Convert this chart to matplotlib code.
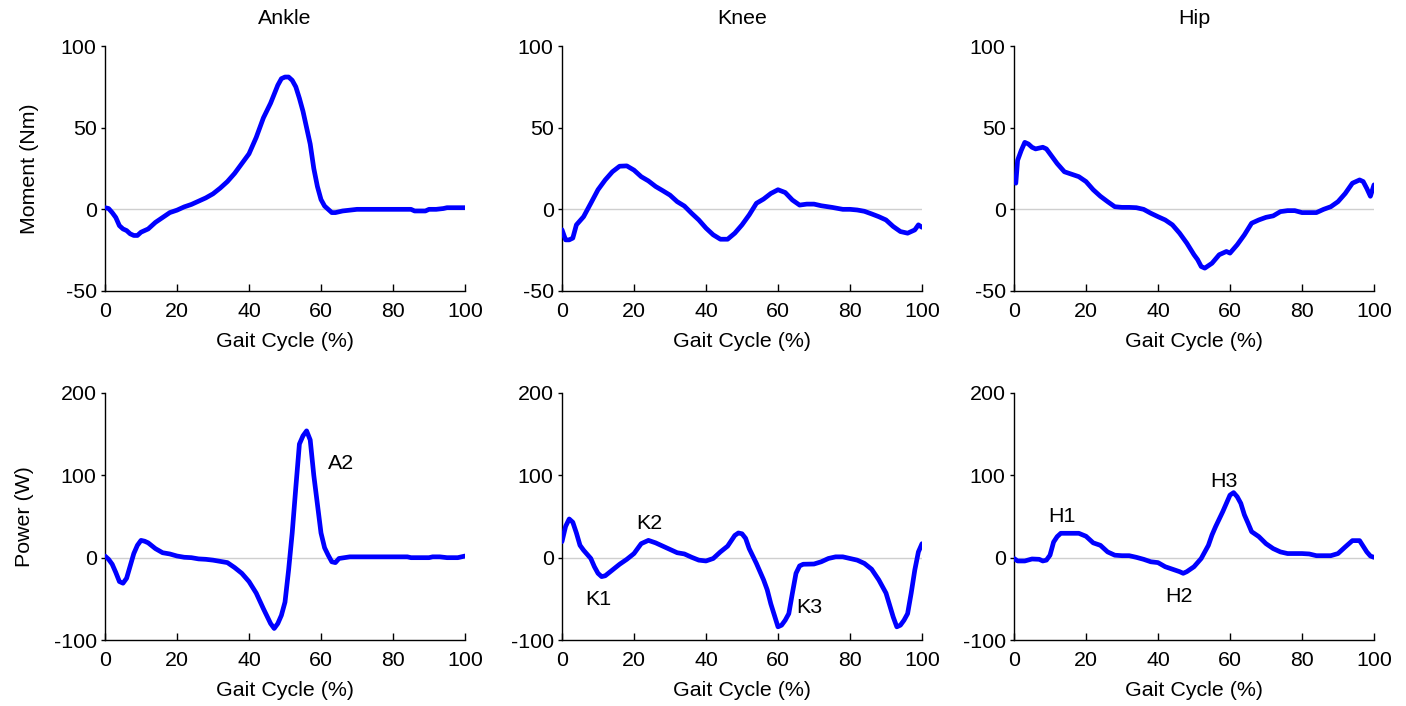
"""Joint moments and powers across the gait cycle (ankle, knee, hip)"""

import matplotlib
matplotlib.use("Agg")
import matplotlib.pyplot as plt

plt.rcParams["font.family"] = ["Liberation Sans", "DejaVu Sans"]
plt.rcParams["font.size"] = 15.4
plt.rcParams["axes.unicode_minus"] = False

LINE_COLOR = "#0000ff"
ZERO_COLOR = "#cfcfcf"
LINEWIDTH = 3.4

JOINTS = ["Ankle", "Knee", "Hip"]

# --- moments (Nm) ---
ankle_moment_x = [0, 1, 2, 3, 4, 5, 6, 7, 8, 9, 10, 12, 14, 16, 18, 20, 22, 24, 26, 28, 30,
                  32, 34, 36, 38, 40, 42, 44, 46, 48, 49, 50, 51, 52, 53, 54, 55, 56, 57,
                  58, 59, 60, 61, 62, 63, 64, 66, 68, 70, 75, 80, 85, 86, 88, 89, 90, 92,
                  94, 95, 96, 98, 100]
ankle_moment_y = [1, 0.5, -2, -5, -10, -12, -13, -15, -16, -16, -14, -12, -8, -5, -2, -0.5,
                  1.5, 3, 5, 7, 9.5, 13, 17, 22, 28, 34, 44, 56, 65, 76, 80, 81, 81, 79, 75,
                  68, 60, 50, 40, 25, 14, 6, 2, 0, -2, -2, -1, -0.5, 0, 0, 0, 0, -1, -1,
                  -1, 0, 0, 0.5, 1, 1, 1, 1]

knee_moment_x = [0, 1, 2, 3, 4, 6, 8, 10, 12, 14, 16, 18, 20, 22, 24, 26, 28, 30, 32, 34,
                 36, 38, 40, 42, 44, 46, 48, 50, 52, 54, 56, 58, 60, 62, 64, 66, 68, 70, 72,
                 75, 78, 80, 82, 84, 86, 88, 90, 92, 94, 96, 98, 99, 100]
knee_moment_y = [-12.5, -18.7, -18.7, -17.6, -9.5, -4.5, 3.7, 12, 18, 23, 26.4, 26.6, 24,
                 20, 17.4, 14, 11.4, 8.7, 4.7, 2, -2.4, -6.5, -11.5, -15.6, -18.3, -18.3,
                 -14.6, -9.5, -3.4, 3.7, 6.3, 9.7, 12, 10.3, 5.7, 2.6, 3.2, 3.2, 2.2, 1.2,
                 0, 0, -0.4, -1.2, -2.8, -4.5, -6.5, -10.5, -13.6, -14.6, -12.6, -9.5, -11]

hip_moment_x = [0.5, 1, 2, 3, 4, 5, 6, 8, 9, 10, 12, 14, 16, 18, 20, 22, 24, 26, 28, 30, 32,
                34, 36, 38, 40, 42, 44, 46, 48, 50, 51, 52, 53, 55, 57, 59, 60, 62, 64, 66,
                68, 70, 72, 74, 76, 78, 80, 82, 84, 86, 88, 90, 92, 94, 96, 97, 98, 99, 100]
hip_moment_y = [16, 30, 36, 41, 40, 38, 37, 38, 37, 34, 28, 23, 21.5, 20, 17, 12, 8, 4.7,
                1.6, 1.2, 1.2, 1, 0, -2.4, -4.5, -6.5, -9.5, -14.6, -20.7, -27.8, -30.8,
                -35, -36, -33, -27.8, -25.8, -26.8, -21.7, -15.6, -8.5, -6.5, -4.9, -4,
                -1.4, -0.8, -0.8, -2, -2, -2, 0, 1.6, 4.7, 9.7, 16, 18, 17, 12.8, 8, 15]

# --- powers (W) ---
ankle_power_x = [0, 1, 2, 3, 4, 5, 6, 7, 8, 9, 10, 11, 12, 14, 16, 18, 20, 22, 24, 26, 28,
                 30, 32, 34, 36, 38, 40, 42, 44, 46, 47, 48, 49, 50, 51, 52, 53, 54, 55, 56,
                 57, 58, 59, 60, 61, 62, 63, 64, 65, 68, 70, 80, 84, 85, 90, 91, 93, 95, 98,
                 100]
ankle_power_y = [2, -2, -8, -18, -29, -31, -25, -10, 5, 15, 21, 20, 18, 11, 6, 4.5, 2, 0.5,
                 0, -1.5, -2, -3, -4.5, -6, -12, -19, -29, -43, -62, -80, -86, -80, -70,
                 -54, -15, 30, 85, 138, 148, 154, 143, 100, 65, 30, 12, 3, -5, -6, -1, 1,
                 1, 1, 1, 0, 0, 1, 1, 0, 0, 2]

knee_power_x = [0, 1, 2, 3, 4, 5, 6, 8, 9, 10, 11, 12, 14, 16, 18, 20, 22, 24, 26, 28, 30,
                32, 34, 36, 38, 40, 42, 44, 46, 48, 49, 50, 51, 52, 54, 56, 57, 58, 59, 60,
                61, 62, 63, 64, 65, 66, 67, 70, 72, 74, 76, 78, 80, 82, 84, 86, 88, 90, 92,
                93, 94, 95, 96, 97, 98, 99, 100]
knee_power_y = [19.5, 38, 47, 43, 30, 15, 9, -1, -11, -19, -23, -22, -15, -8, -2, 5, 17, 21,
                18, 14, 10, 6, 4.5, 0.5, -3, -4, -1, 7, 14, 27, 30, 29, 23.5, 11, -7, -27,
                -39, -56, -70, -84, -82, -76, -68, -43, -19, -10, -8, -7.7, -5, -1, 1, 1,
                -1, -3, -7, -14, -27, -43, -72, -84, -82, -76, -68, -43, -15, 7, 17]

hip_power_x = [0, 1, 3, 5, 7, 8, 9, 10, 11, 12, 13, 15, 18, 20, 22, 24, 26, 28, 30, 32, 34,
               36, 38, 40, 42, 44, 46, 47, 48, 50, 52, 54, 55, 56, 58, 59, 60, 61, 62, 63,
               64, 65, 66, 68, 70, 72, 74, 76, 78, 80, 82, 84, 86, 88, 90, 92, 94, 96, 98,
               99, 100]
hip_power_y = [-1, -4, -4, -1.6, -2, -4, -3, 3, 19, 25.6, 29.6, 29.6, 29.6, 26, 18, 15, 7,
               3, 2.4, 2.4, 0.4, -2, -5, -6, -11, -14, -17, -19, -17, -11, -1, 15, 27.6,
               37.7, 56, 66, 76, 79, 74, 66, 52, 42, 31.6, 25.6, 17, 11, 7, 5, 5, 5, 4.5,
               2.4, 2.4, 2.4, 5, 13, 20.7, 20.7, 7, 2, 0.4]

# --- phase labels (text, gait %, power W) ---
ankle_labels = [("A2", 65.5, 114)]
knee_labels = [("K1", 10, -51), ("K2", 24.4, 41), ("K3", 68.6, -61)]
hip_labels = [("H1", 13.3, 50), ("H2", 45.8, -47), ("H3", 58.3, 92)]

moments = [(ankle_moment_x, ankle_moment_y), (knee_moment_x, knee_moment_y),
           (hip_moment_x, hip_moment_y)]
powers = [(ankle_power_x, ankle_power_y), (knee_power_x, knee_power_y),
          (hip_power_x, hip_power_y)]
labels = [ankle_labels, knee_labels, hip_labels]

W, H = 1406, 706
COL_LEFT = [105, 562, 1014]
COL_WIDTH = 360
ROW_TOP = [46, 393]
ROW_BOTTOM = [291, 640]


def _style_axis(axis, ylim, yticks):
    axis.axhline(0, color=ZERO_COLOR, linewidth=1.0, zorder=1)
    axis.set_xlim(0, 100)
    axis.set_ylim(*ylim)
    axis.set_xticks([0, 20, 40, 60, 80, 100])
    axis.set_yticks(yticks)
    for side in ("top", "right"):
        axis.spines[side].set_visible(False)
    for side in ("left", "bottom"):
        axis.spines[side].set_linewidth(1.0)
    axis.tick_params(axis="x", direction="in", length=5, width=1, pad=8)
    axis.tick_params(axis="y", direction="out", length=3, width=1, pad=3)
    axis.set_xlabel("Gait Cycle (%)", labelpad=8)


figure = plt.figure(figsize=(W / 100, H / 100), dpi=100)

for col, joint in enumerate(JOINTS):
    # moment row
    left = COL_LEFT[col] / W
    width = COL_WIDTH / W
    bottom = 1 - ROW_BOTTOM[0] / H
    height = (ROW_BOTTOM[0] - ROW_TOP[0]) / H
    axis = figure.add_axes([left, bottom, width, height])
    axis.plot(*moments[col], color=LINE_COLOR, linewidth=LINEWIDTH, zorder=3,
              solid_joinstyle="round", solid_capstyle="round")
    _style_axis(axis, (-50, 100), [-50, 0, 50, 100])
    axis.set_title(joint, pad=16, fontsize=15.4)
    if col == 0:
        axis.set_ylabel("Moment (Nm)", labelpad=16)

    # power row
    bottom = 1 - ROW_BOTTOM[1] / H
    height = (ROW_BOTTOM[1] - ROW_TOP[1]) / H
    axis = figure.add_axes([left, bottom, width, height])
    axis.plot(*powers[col], color=LINE_COLOR, linewidth=LINEWIDTH, zorder=3,
              solid_joinstyle="round", solid_capstyle="round")
    _style_axis(axis, (-100, 200), [-100, 0, 100, 200])
    for text, x, y in labels[col]:
        axis.text(x, y, text, ha="center", va="center")
    if col == 0:
        axis.set_ylabel("Power (W)", labelpad=14)

figure.savefig("out.png", dpi=100)
